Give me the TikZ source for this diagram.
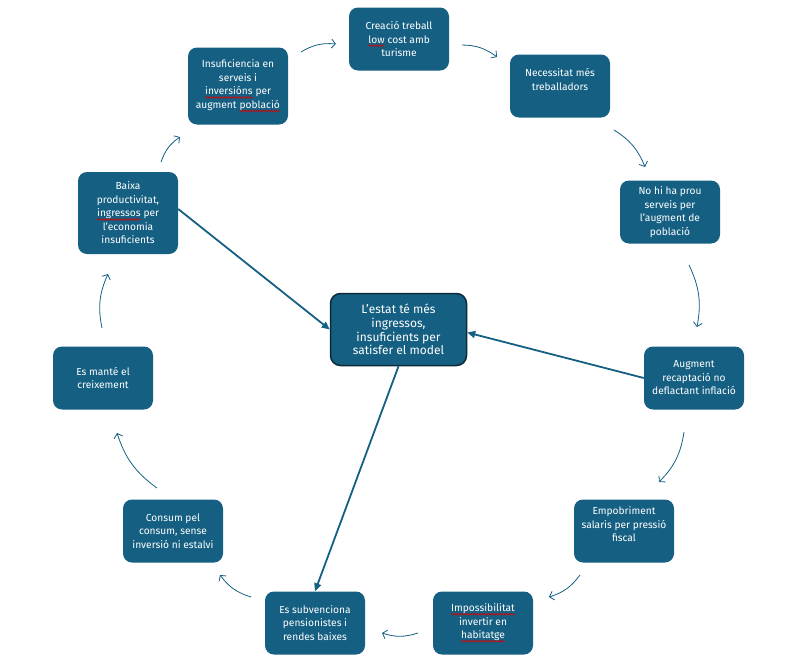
\documentclass[tikz,border=0pt]{standalone}
\usepackage{fontspec}
\setmainfont{Fira Sans}
\usetikzlibrary{arrows.meta,decorations.pathmorphing}
\definecolor{boxblue}{HTML}{156082}
\definecolor{edgedark}{HTML}{0B2A3A}
\newcommand{\spl}[1]{\tikz[baseline=(sw.base)]{\node[inner sep=0pt, outer sep=0pt, minimum width=0pt, minimum height=0pt,
    fill=none, draw=none, rounded corners=0pt, text=white, anchor=base] (sw) {#1};
  \draw[red!85!black, line width=0.6pt, rounded corners=0pt, decorate, decoration={snake,amplitude=0.8pt,segment length=2.6pt}]
    ([yshift=-2.6pt]sw.base west) -- ([yshift=-2.6pt]sw.base east);}}
\tikzset{
  box/.style={fill=boxblue, rounded corners=9pt, minimum width=100pt, minimum height=63pt,
    text=white, align=center, inner sep=2pt, font=\fontsize{10.2}{13.5}\selectfont},
  centerbox/.style={fill=boxblue, draw=edgedark, line width=1.5pt, rounded corners=10pt,
    minimum width=136pt, minimum height=72pt, text=white, align=center,
    font=\fontsize{12}{13.8}\selectfont},
  flow/.style={draw=boxblue, line width=0.8pt, -{Straight Barb[length=4pt,width=9pt]}, bend left=18},
  main/.style={draw=boxblue, line width=1.8pt, -{Triangle[length=8pt,width=7pt]}}
}
\begin{document}
\begin{tikzpicture}[x=1pt,y=-1pt]
\useasboundingbox (0,0) rectangle (793,667);
\node[box, minimum height=77pt] (b1) at (238,86) {Insuficiencia en\\serveis i\\\spl{inversións} per\\augment \spl{població}};
\node[box] (b2) at (399,39) {Creació treball\\\spl{low} cost amb\\turisme};
\node[box] (b3) at (560,86) {Necessitat més\\treballadors\\~};
\node[box] (b4) at (670,212) {No hi ha prou\\serveis per\\l’augment de\\població};
\node[box] (b5) at (694,378) {Augment\\recaptació no\\deflactant inflació};
\node[box] (b6) at (624,531) {Empobriment\\salaris per pressió\\fiscal\\[0pt]~};
\node[box] (b7) at (483,623) {\spl{Impossibilitat}\\invertir en\\\spl{habitatge}};
\node[box] (b8) at (315,623) {Es subvenciona\\pensionistes i\\rendes baixes};
\node[box] (b9) at (173,531) {Consum pel\\consum, sense\\inversió ni estalvi};
\node[box] (b10) at (103,378) {Es manté el\\creixement};
\node[box, minimum height=82pt] (b11) at (128,213) {Baixa\\productivitat,\\\spl{ingressos} per\\l’economia\\insuficients};
\node[centerbox] (c) at (398.5,329.5) {L’estat té més\\ingressos,\\insuficients per\\satisfer el model};

\coordinate (a1s) at (301,52);  \coordinate (a1e) at (336,44);
\coordinate (a2s) at (462,45);  \coordinate (a2e) at (497,57);
\coordinate (a3s) at (614,130); \coordinate (a3e) at (645,167);
\coordinate (a4s) at (689,265); \coordinate (a4e) at (697,327);
\coordinate (a5s) at (684,432); \coordinate (a5e) at (659,482);
\coordinate (a6s) at (580,575); \coordinate (a6e) at (549,597);
\coordinate (a7s) at (418,633); \coordinate (a7e) at (382,633);
\coordinate (a8s) at (251,597); \coordinate (a8e) at (220,575);
\coordinate (a9s) at (157,488); \coordinate (a9e) at (117,433);
\coordinate (a10s) at (102,328); \coordinate (a10e) at (108,274);
\coordinate (a11s) at (161,162); \coordinate (a11e) at (180,137);
\foreach \i in {1,...,11} {
  \draw[flow] (a\i s) to (a\i e);
}

\draw[main] (b11.east) ++(0,-4) -- (c.west);
\draw[main] (b5.west) -- ([yshift=-3pt]c.east);
\draw[main] (c.south) -- (b8.north);
\end{tikzpicture}
\end{document}
